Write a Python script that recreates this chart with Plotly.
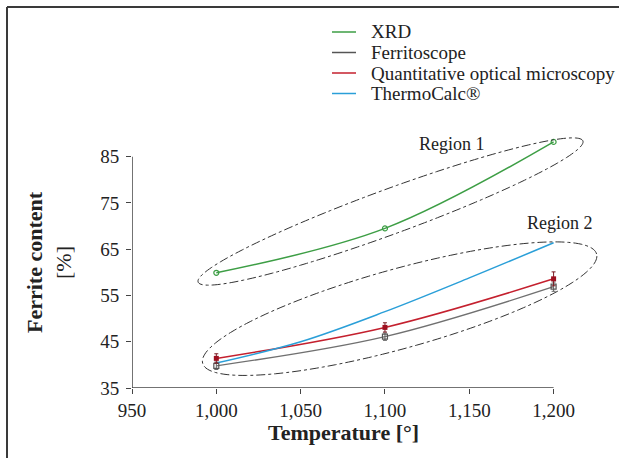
import numpy as np
import plotly.graph_objects as go

# ---------------- data ----------------
temps = [1000, 1100, 1200]
xrd = [59.9, 69.5, 88.2]
ferritoscope = [39.8, 46.1, 56.9]
ferritoscope_err = [0.8, 0.8, 1.0]
optical = [41.4, 48.1, 58.6]
optical_err = [1.0, 1.0, 1.5]
thermo_temps = [1000, 1050, 1100, 1150, 1200]
thermocalc = [40.4, 45.0, 51.5, 58.8, 66.4]

x_ticks = [950, 1000, 1050, 1100, 1150, 1200]
x_tick_labels = ["950", "1,000", "1,050", "1,100", "1,150", "1,200"]
y_ticks = [35, 45, 55, 65, 75, 85]

series_names = ["XRD", "Ferritoscope", "Quantitative optical microscopy", "ThermoCalc®"]
region_labels = ["Region 1", "Region 2"]

# ---------------- style / layout ----------------
FONT = "Liberation Serif"
C_GREEN = "#3d9e45"
C_GREY = "#707070"
C_RED = "#c4202e"
C_BLUE = "#2a9fd8"
C_AXIS = "#444444"
TXT = "#222222"

W, H = 619, 458
ML, MR, MT, MB = 132, 19, 120, 70
PX_PER_T = 1.6864
PX_PER_Y = 4.626
x_range = [950, 950 + (W - ML - MR) / PX_PER_T]
y_range = [35, 35 + (H - MT - MB) / PX_PER_Y]

# ellipse annotations: centre, half-major vector, half-minor vector (data units)
ellipses = [
    dict(c=(1103.3, 73.15), u=(114.1, 15.24), v=(-4.27, 4.6)),
    dict(c=(1108.7, 52.15), u=(116.8, 11.81), v=(-6.1, 8.3)),
]
region_pos = [(1139.8, 87.7), (1203.8, 70.7)]

series_colors = [C_GREEN, "#555555", C_RED, C_BLUE]
legend_rows_px = [32, 52.5, 73, 93.5]   # pixel rows of the legend entries
legend_line_px = (332, 356)
legend_text_px = 369


def px_to_paper(px, py):
    return (px - ML) / (W - ML - MR), (H - MB - py) / (H - MT - MB)


fig = go.Figure()

# lines
fig.add_trace(go.Scatter(x=temps, y=xrd, mode="lines", name=series_names[0], showlegend=False,
                         line=dict(color=C_GREEN, width=1.5, shape="spline")))
fig.add_trace(go.Scatter(x=temps, y=ferritoscope, mode="lines", name=series_names[1], showlegend=False,
                         line=dict(color=C_GREY, width=1.3, shape="spline")))
fig.add_trace(go.Scatter(x=temps, y=optical, mode="lines", name=series_names[2], showlegend=False,
                         line=dict(color=C_RED, width=1.5, shape="spline")))
fig.add_trace(go.Scatter(x=thermo_temps, y=thermocalc, mode="lines", name=series_names[3], showlegend=False,
                         line=dict(color=C_BLUE, width=1.5, shape="spline")))

# markers with error bars
fig.add_trace(go.Scatter(x=temps, y=xrd, mode="markers", showlegend=False, name=series_names[0],
                         marker=dict(symbol="circle-open", size=5, color=C_GREEN, line=dict(width=1.2))))
fig.add_trace(go.Scatter(x=temps, y=ferritoscope, mode="markers", showlegend=False, name=series_names[1],
                         marker=dict(symbol="square-open", size=5, color="#555555", line=dict(width=1.2)),
                         error_y=dict(type="data", array=ferritoscope_err, color="#666666",
                                      thickness=1, width=2)))
fig.add_trace(go.Scatter(x=temps, y=optical, mode="markers", showlegend=False, name=series_names[2],
                         marker=dict(symbol="square", size=5, color="#9e1020"),
                         error_y=dict(type="data", array=optical_err, color="#7a1a22",
                                      thickness=1, width=2)))

shapes = []
# ellipses
t = np.linspace(0, 2 * np.pi, 181)
for e in ellipses:
    xs = e["c"][0] + e["u"][0] * np.cos(t) + e["v"][0] * np.sin(t)
    ys = e["c"][1] + e["u"][1] * np.cos(t) + e["v"][1] * np.sin(t)
    path = "M " + " L ".join(f"{a:.3f},{b:.3f}" for a, b in zip(xs, ys)) + " Z"
    shapes.append(dict(type="path", path=path, xref="x", yref="y",
                       line=dict(color="#333333", width=1, dash="dashdot")))
# axis lines
shapes.append(dict(type="line", xref="x", yref="y", x0=x_ticks[0], x1=x_ticks[-1],
                   y0=y_ticks[0], y1=y_ticks[0], line=dict(color=C_AXIS, width=1.5)))
shapes.append(dict(type="line", xref="x", yref="y", x0=x_ticks[0], x1=x_ticks[0],
                   y0=y_ticks[0], y1=y_ticks[-1], line=dict(color=C_AXIS, width=1.5)))

# outer frame (top & left)
fx0, fy0 = px_to_paper(7, 7)
fx1, fy1 = px_to_paper(W + 2, H + 2)
shapes.append(dict(type="line", xref="paper", yref="paper", x0=fx0, x1=fx1, y0=fy0, y1=fy0,
                   line=dict(color="#3a3a3a", width=2)))
shapes.append(dict(type="line", xref="paper", yref="paper", x0=fx0, x1=fx0, y0=fy0, y1=fy1,
                   line=dict(color="#3a3a3a", width=2)))

annotations = []
# legend (line samples + labels)
for name, col, row in zip(series_names, series_colors, legend_rows_px):
    lx0, ly = px_to_paper(legend_line_px[0], row)
    lx1, _ = px_to_paper(legend_line_px[1], row)
    shapes.append(dict(type="line", xref="paper", yref="paper", x0=lx0, x1=lx1, y0=ly, y1=ly,
                       line=dict(color=col, width=1.5)))
    tx_, ty_ = px_to_paper(legend_text_px, row)
    annotations.append(dict(x=tx_, y=ty_, xref="paper", yref="paper", text=name, showarrow=False,
                            xanchor="left", yanchor="middle",
                            font=dict(family=FONT, size=19, color=TXT)))

for lab, (ax_, ay_) in zip(region_labels, region_pos):
    annotations.append(dict(x=ax_, y=ay_, xref="x", yref="y", text=lab, showarrow=False,
                            xanchor="center", yanchor="middle",
                            font=dict(family=FONT, size=18, color=TXT)))
tx, ty = px_to_paper(343, 432)
annotations.append(dict(x=tx, y=ty, xref="paper", yref="paper", text="<b>Temperature [°]</b>",
                        xanchor="center", yanchor="middle",
                        showarrow=False, font=dict(family=FONT, size=22, color=TXT)))
yx, yy = px_to_paper(49, 262)
annotations.append(dict(x=yx, y=yy, xref="paper", yref="paper", text="<b>Ferrite content</b><br>[%]",
                        xanchor="center", yanchor="middle",
                        textangle=-90, showarrow=False, font=dict(family=FONT, size=22, color=TXT)))

fig.update_layout(
    width=W, height=H, autosize=False,
    margin=dict(l=ML, r=MR, t=MT, b=MB),
    paper_bgcolor="white", plot_bgcolor="white",
    font=dict(family=FONT, size=19, color=TXT),
    showlegend=False,
    shapes=shapes, annotations=annotations,
    xaxis=dict(range=x_range, tickvals=x_ticks, ticktext=x_tick_labels, showgrid=False,
               zeroline=False, showline=False, ticks="outside", ticklen=5, tickwidth=1.2,
               tickcolor=C_AXIS, tickfont=dict(family=FONT, size=19, color=TXT)),
    yaxis=dict(range=y_range, tickvals=y_ticks, showgrid=False, zeroline=False, showline=False,
               ticks="outside", ticklen=5, tickwidth=1.2, tickcolor=C_AXIS, ticklabelstandoff=3,
               tickfont=dict(family=FONT, size=19, color=TXT)),
)

fig.write_html("out.html", config={"displayModeBar": False},
               post_script="document.body.style.margin='0';document.body.style.overflow='hidden';")
